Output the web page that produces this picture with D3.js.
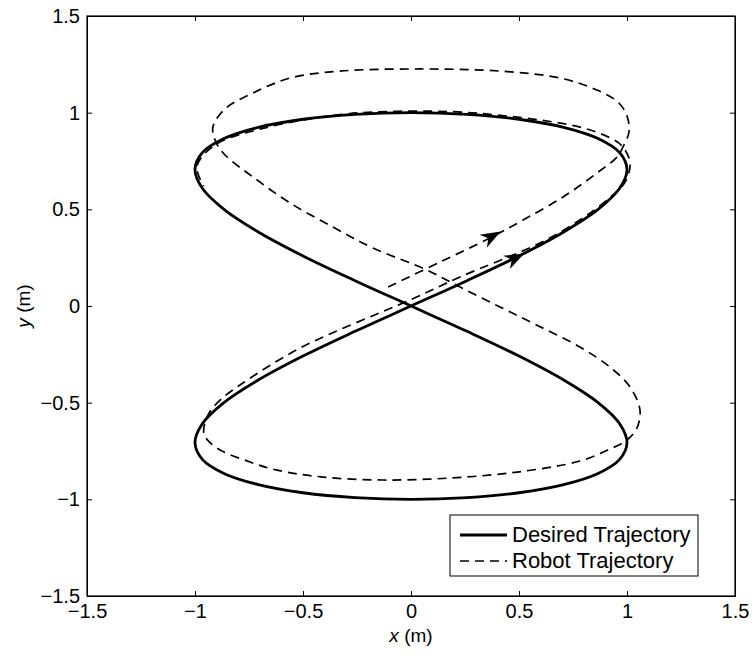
<!DOCTYPE html>
<html>
<head>
<meta charset="utf-8">
<title>trajectory</title>
<script src="https://cdnjs.cloudflare.com/ajax/libs/d3/7.8.5/d3.min.js"></script>
<style>
  body { margin: 0; background: #fff; }
  svg { font-family: "Liberation Sans", Arial, sans-serif; }
</style>
</head>
<body>
<svg id="svg" width="755" height="655"></svg>
<script>

// axis ticks
const xTicks = [-1.5, -1, -0.5, 0, 0.5, 1, 1.5];
const yTicks = [-1.5, -1, -0.5, 0, 0.5, 1, 1.5];

// desired figure-eight (closed loop, starts at the crossing)
const desiredX = [0, 0.259, 0.5, 0.707, 0.866, 0.966, 1, 0.966, 0.866, 0.707, 0.5, 0.259,
                  0, -0.259, -0.5, -0.707, -0.866, -0.966, -1, -0.966, -0.866, -0.707, -0.5, -0.259,
                  0, 0.259, 0.5, 0.707, 0.866, 0.966, 1, 0.966, 0.866, 0.707, 0.5, 0.259,
                  0, -0.259, -0.5, -0.707, -0.866, -0.966, -1, -0.966, -0.866, -0.707, -0.5, -0.259];
const desiredY = [0, 0.131, 0.259, 0.383, 0.5, 0.609, 0.707, 0.793, 0.866, 0.924, 0.966, 0.991,
                  1, 0.991, 0.966, 0.924, 0.866, 0.793, 0.707, 0.609, 0.5, 0.383, 0.259, 0.131,
                  0, -0.131, -0.259, -0.383, -0.5, -0.609, -0.707, -0.793, -0.866, -0.924, -0.966, -0.991,
                  -1, -0.991, -0.966, -0.924, -0.866, -0.793, -0.707, -0.609, -0.5, -0.383, -0.259, -0.131];

// robot path
const robotX = [-0.106, 0.134, 0.366, 0.519, 0.704, 0.861, 0.954, 0.981, 1.009, 1.0,
                0.958, 0.861, 0.69, 0.412, 0.042, -0.329, -0.56, -0.731, -0.861, -0.917,
                -0.903, -0.861, -0.731, -0.56, -0.361, -0.176, 0.074, 0.227, 0.412, 0.583,
                0.782, 0.921, 1.014, 1.06, 1.046, 1.0, 0.921, 0.782, 0.491, 0.181,
                -0.13, -0.407, -0.62, -0.745, -0.898, -0.958, -0.94, -0.884, -0.792, -0.514,
                -0.005, 0.227, 0.597, 0.782, 0.907, 0.991, 1.014, 0.981, 0.935, 0.782,
                0.319, 0.0, -0.329, -0.699, -0.907, -0.991, -0.96];
const robotY = [0.098, 0.227, 0.352, 0.445, 0.564, 0.688, 0.771, 0.822, 0.9, 0.983,
                1.055, 1.117, 1.179, 1.215, 1.226, 1.215, 1.179, 1.102, 1.019, 0.926,
                0.848, 0.781, 0.667, 0.533, 0.408, 0.3, 0.186, 0.098, -0.005, -0.099,
                -0.212, -0.316, -0.419, -0.538, -0.631, -0.693, -0.74, -0.802, -0.859, -0.89,
                -0.9, -0.885, -0.849, -0.807, -0.735, -0.662, -0.564, -0.487, -0.409, -0.218,
                0.031, 0.15, 0.326, 0.445, 0.548, 0.641, 0.74, 0.822, 0.862, 0.925,
                0.996, 1.008, 0.99, 0.915, 0.833, 0.722, 0.62];

// direction arrows: tip position and direction (data units)
const arrowX = [0.525, 0.415];
const arrowY = [0.272, 0.385];
const arrowDX = [1, 1];
const arrowDY = [0.56, 0.62];

const svg = d3.select('#svg');
const mLeft = 87, mRight = 735, mTop = 16, mBottom = 596;

const x = d3.scaleLinear().domain([-1.5, 1.5]).range([mLeft, mRight]);
const y = d3.scaleLinear().domain([-1.5, 1.5]).range([mBottom, mTop]);

svg.append('rect').attr('width', 755).attr('height', 655).attr('fill', '#fff');

const desired = desiredX.map((d, i) => [d, desiredY[i]]);
const robot = robotX.map((d, i) => [d, robotY[i]]);

svg.append('path')
  .datum(desired)
  .attr('d', d3.line().x(d => x(d[0])).y(d => y(d[1])).curve(d3.curveCatmullRomClosed))
  .attr('fill', 'none')
  .attr('stroke', '#000')
  .attr('stroke-width', 2.8)
  .attr('stroke-linejoin', 'round');

svg.append('path')
  .datum(robot)
  .attr('d', d3.line().x(d => x(d[0])).y(d => y(d[1])).curve(d3.curveCatmullRom))
  .attr('fill', 'none')
  .attr('stroke', '#000')
  .attr('stroke-width', 1.7)
  .attr('stroke-dasharray', '9,6');

// arrowheads
arrowX.forEach((ax, i) => {
  const px = x(ax), py = y(arrowY[i]);
  const ang = Math.atan2(y(arrowY[i] + arrowDY[i] * 0.1) - py, x(ax + arrowDX[i] * 0.1) - px) * 180 / Math.PI;
  svg.append('path')
    .attr('d', 'M0,0 L-20,-7.5 L-14,0 L-20,7.5 Z')
    .attr('transform', `translate(${px},${py}) rotate(${ang})`)
    .attr('fill', '#000');
});

// axes (ticks point inward, box on all sides)
const fmt = d3.format('');
svg.append('g')
  .attr('transform', `translate(0,${mBottom})`)
  .call(d3.axisBottom(x).tickValues(xTicks).tickSizeInner(-5).tickSizeOuter(0).tickPadding(8).tickFormat(fmt));
svg.append('g')
  .attr('transform', `translate(${mLeft},0)`)
  .call(d3.axisLeft(y).tickValues(yTicks).tickSizeInner(-5).tickSizeOuter(0).tickPadding(7).tickFormat(fmt));
svg.append('g')
  .attr('transform', `translate(0,${mTop})`)
  .call(d3.axisTop(x).tickValues(xTicks).tickSizeInner(-5).tickSizeOuter(0).tickFormat(''));
svg.append('g')
  .attr('transform', `translate(${mRight},0)`)
  .call(d3.axisRight(y).tickValues(yTicks).tickSizeInner(-5).tickSizeOuter(0).tickFormat(''));

svg.selectAll('.tick text')
  .attr('font-size', 20)
  .attr('font-family', '"Liberation Sans", Arial, sans-serif')
  .attr('fill', '#000');
svg.selectAll('.domain').attr('stroke', '#000');
svg.selectAll('.tick line').attr('stroke', '#000');

svg.append('rect')
  .attr('x', mLeft).attr('y', mTop)
  .attr('width', mRight - mLeft).attr('height', mBottom - mTop)
  .attr('fill', 'none').attr('stroke', '#000').attr('stroke-width', 1.2);

// axis labels
const xl = svg.append('text')
  .attr('x', (mLeft + mRight) / 2).attr('y', 642)
  .attr('text-anchor', 'middle').attr('font-size', 19);
xl.append('tspan').attr('font-style', 'italic').text('x');
xl.append('tspan').text(' (m)');

const yl = svg.append('text')
  .attr('transform', `translate(30,${(mTop + mBottom) / 2}) rotate(-90)`)
  .attr('text-anchor', 'middle').attr('font-size', 19);
yl.append('tspan').attr('font-style', 'italic').text('y');
yl.append('tspan').text(' (m)');

// legend
const lg = svg.append('g');
lg.append('rect')
  .attr('x', 450).attr('y', 515).attr('width', 248).attr('height', 61)
  .attr('fill', '#fff').attr('stroke', '#000').attr('stroke-width', 1);
lg.append('line').attr('x1', 460).attr('x2', 507).attr('y1', 535).attr('y2', 535)
  .attr('stroke', '#000').attr('stroke-width', 2.8);
lg.append('line').attr('x1', 460).attr('x2', 507).attr('y1', 561).attr('y2', 561)
  .attr('stroke', '#000').attr('stroke-width', 1.7).attr('stroke-dasharray', '9,6');
lg.append('text').attr('x', 512).attr('y', 542).attr('font-size', 22).text('Desired Trajectory');
lg.append('text').attr('x', 512).attr('y', 568).attr('font-size', 22).text('Robot Trajectory');

</script>
</body>
</html>
